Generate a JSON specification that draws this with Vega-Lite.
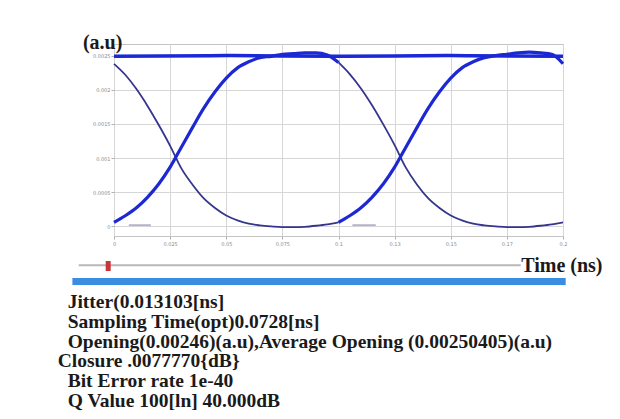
{
  "$schema": "https://vega.github.io/schema/vega-lite/v6.json",
  "background": "white",
  "padding": {"left": 57, "top": 32, "right": 4, "bottom": 4},
  "autosize": {"type": "pad"},
  "bounds": "flush",
  "spacing": 16,
  "config": {"font": "Liberation Serif"},
  "datasets": {
    "eye": [
      {"trace": "rise1", "kind": "rise", "t": 0, "v": 0.00006},
      {"trace": "rise1", "kind": "rise", "t": 0.005, "v": 0.000156},
      {"trace": "rise1", "kind": "rise", "t": 0.01, "v": 0.000273},
      {"trace": "rise1", "kind": "rise", "t": 0.015, "v": 0.000429},
      {"trace": "rise1", "kind": "rise", "t": 0.02, "v": 0.000624},
      {"trace": "rise1", "kind": "rise", "t": 0.025, "v": 0.000867},
      {"trace": "rise1", "kind": "rise", "t": 0.03, "v": 0.00116},
      {"trace": "rise1", "kind": "rise", "t": 0.035, "v": 0.00145},
      {"trace": "rise1", "kind": "rise", "t": 0.04, "v": 0.00173},
      {"trace": "rise1", "kind": "rise", "t": 0.045, "v": 0.00197},
      {"trace": "rise1", "kind": "rise", "t": 0.05, "v": 0.00217},
      {"trace": "rise1", "kind": "rise", "t": 0.055, "v": 0.00232},
      {"trace": "rise1", "kind": "rise", "t": 0.06, "v": 0.00241},
      {"trace": "rise1", "kind": "rise", "t": 0.065, "v": 0.00247},
      {"trace": "rise1", "kind": "rise", "t": 0.07, "v": 0.00249},
      {"trace": "rise1", "kind": "rise", "t": 0.075, "v": 0.00252},
      {"trace": "rise1", "kind": "rise", "t": 0.08, "v": 0.00253},
      {"trace": "rise1", "kind": "rise", "t": 0.085, "v": 0.00254},
      {"trace": "rise1", "kind": "rise", "t": 0.09, "v": 0.00254},
      {"trace": "rise1", "kind": "rise", "t": 0.095, "v": 0.00251},
      {"trace": "rise1", "kind": "rise", "t": 0.1, "v": 0.0024},
      {"trace": "rise2", "kind": "rise", "t": 0.1, "v": 0.00006},
      {"trace": "rise2", "kind": "rise", "t": 0.105, "v": 0.000156},
      {"trace": "rise2", "kind": "rise", "t": 0.11, "v": 0.000273},
      {"trace": "rise2", "kind": "rise", "t": 0.115, "v": 0.000429},
      {"trace": "rise2", "kind": "rise", "t": 0.12, "v": 0.000624},
      {"trace": "rise2", "kind": "rise", "t": 0.125, "v": 0.000867},
      {"trace": "rise2", "kind": "rise", "t": 0.13, "v": 0.00116},
      {"trace": "rise2", "kind": "rise", "t": 0.135, "v": 0.00145},
      {"trace": "rise2", "kind": "rise", "t": 0.14, "v": 0.00173},
      {"trace": "rise2", "kind": "rise", "t": 0.145, "v": 0.00197},
      {"trace": "rise2", "kind": "rise", "t": 0.15, "v": 0.00217},
      {"trace": "rise2", "kind": "rise", "t": 0.155, "v": 0.00232},
      {"trace": "rise2", "kind": "rise", "t": 0.16, "v": 0.00241},
      {"trace": "rise2", "kind": "rise", "t": 0.165, "v": 0.00247},
      {"trace": "rise2", "kind": "rise", "t": 0.17, "v": 0.0025},
      {"trace": "rise2", "kind": "rise", "t": 0.175, "v": 0.00252},
      {"trace": "rise2", "kind": "rise", "t": 0.18, "v": 0.00254},
      {"trace": "rise2", "kind": "rise", "t": 0.185, "v": 0.00255},
      {"trace": "rise2", "kind": "rise", "t": 0.19, "v": 0.00254},
      {"trace": "rise2", "kind": "rise", "t": 0.195, "v": 0.00252},
      {"trace": "rise2", "kind": "rise", "t": 0.2, "v": 0.00238},
      {"trace": "fall1", "kind": "fall", "t": 0, "v": 0.00238},
      {"trace": "fall1", "kind": "fall", "t": 0.005, "v": 0.00222},
      {"trace": "fall1", "kind": "fall", "t": 0.01, "v": 0.00201},
      {"trace": "fall1", "kind": "fall", "t": 0.015, "v": 0.00176},
      {"trace": "fall1", "kind": "fall", "t": 0.02, "v": 0.00148},
      {"trace": "fall1", "kind": "fall", "t": 0.025, "v": 0.00118},
      {"trace": "fall1", "kind": "fall", "t": 0.03, "v": 0.00085},
      {"trace": "fall1", "kind": "fall", "t": 0.035, "v": 0.00061},
      {"trace": "fall1", "kind": "fall", "t": 0.04, "v": 0.00041},
      {"trace": "fall1", "kind": "fall", "t": 0.045, "v": 0.00027},
      {"trace": "fall1", "kind": "fall", "t": 0.05, "v": 0.00016},
      {"trace": "fall1", "kind": "fall", "t": 0.055, "v": 0.00009},
      {"trace": "fall1", "kind": "fall", "t": 0.06, "v": 0.00004},
      {"trace": "fall1", "kind": "fall", "t": 0.065, "v": 0.000015},
      {"trace": "fall1", "kind": "fall", "t": 0.07, "v": 0.0},
      {"trace": "fall1", "kind": "fall", "t": 0.075, "v": -0.00001},
      {"trace": "fall1", "kind": "fall", "t": 0.08, "v": -0.00001},
      {"trace": "fall1", "kind": "fall", "t": 0.085, "v": -0.000005},
      {"trace": "fall1", "kind": "fall", "t": 0.09, "v": 0.00001},
      {"trace": "fall1", "kind": "fall", "t": 0.095, "v": 0.00003},
      {"trace": "fall1", "kind": "fall", "t": 0.1, "v": 0.00006},
      {"trace": "fall2", "kind": "fall", "t": 0.1, "v": 0.0024},
      {"trace": "fall2", "kind": "fall", "t": 0.105, "v": 0.00223},
      {"trace": "fall2", "kind": "fall", "t": 0.11, "v": 0.00202},
      {"trace": "fall2", "kind": "fall", "t": 0.115, "v": 0.00177},
      {"trace": "fall2", "kind": "fall", "t": 0.12, "v": 0.00149},
      {"trace": "fall2", "kind": "fall", "t": 0.125, "v": 0.00119},
      {"trace": "fall2", "kind": "fall", "t": 0.13, "v": 0.00086},
      {"trace": "fall2", "kind": "fall", "t": 0.135, "v": 0.00061},
      {"trace": "fall2", "kind": "fall", "t": 0.14, "v": 0.00041},
      {"trace": "fall2", "kind": "fall", "t": 0.145, "v": 0.00027},
      {"trace": "fall2", "kind": "fall", "t": 0.15, "v": 0.00016},
      {"trace": "fall2", "kind": "fall", "t": 0.155, "v": 0.00009},
      {"trace": "fall2", "kind": "fall", "t": 0.16, "v": 0.00004},
      {"trace": "fall2", "kind": "fall", "t": 0.165, "v": 0.000015},
      {"trace": "fall2", "kind": "fall", "t": 0.17, "v": 0.0},
      {"trace": "fall2", "kind": "fall", "t": 0.175, "v": -0.00001},
      {"trace": "fall2", "kind": "fall", "t": 0.18, "v": -0.00001},
      {"trace": "fall2", "kind": "fall", "t": 0.185, "v": -0.000005},
      {"trace": "fall2", "kind": "fall", "t": 0.19, "v": 0.00001},
      {"trace": "fall2", "kind": "fall", "t": 0.195, "v": 0.00003},
      {"trace": "fall2", "kind": "fall", "t": 0.2, "v": 0.00006},
      {"trace": "top", "kind": "top", "t": 0, "v": 0.00249},
      {"trace": "top", "kind": "top", "t": 0.05, "v": 0.0025},
      {"trace": "top", "kind": "top", "t": 0.1, "v": 0.00249},
      {"trace": "top", "kind": "top", "t": 0.15, "v": 0.0025},
      {"trace": "top", "kind": "top", "t": 0.2, "v": 0.00249},
      {"trace": "mark1", "kind": "mark", "t": 0.0066, "v": 0.00002},
      {"trace": "mark1", "kind": "mark", "t": 0.0164, "v": 0.00002},
      {"trace": "mark2", "kind": "mark", "t": 0.1062, "v": 0.00002},
      {"trace": "mark2", "kind": "mark", "t": 0.1166, "v": 0.00002}
    ],
    "info": [
      {"line": 1, "label": "Jitter(0.013103[ns]"},
      {"line": 2, "label": "Sampling Time(opt)0.0728[ns]"},
      {"line": 3, "label": "Opening(0.00246)(a.u),Average Opening (0.00250405)(a.u)"},
      {"line": 4, "label": "Closure .0077770{dB}"},
      {"line": 5, "label": "Bit Error rate 1e-40"},
      {"line": 6, "label": "Q Value 100[ln] 40.000dB"}
    ]
  },
  "vconcat": [
    {
      "width": 449,
      "height": 192,
      "view": {"stroke": "#c4c4c4", "strokeWidth": 1},
      "data": {"name": "eye"},
      "encoding": {
        "x": {
          "field": "t", "type": "quantitative",
          "scale": {"domain": [0, 0.2], "nice": false, "zero": false},
          "axis": {
            "values": [0, 0.025, 0.05, 0.075, 0.1, 0.125, 0.15, 0.175, 0.2],
            "format": "~g",
            "labelFontSize": 5, "labelColor": "#8a8a8a", "labelFont": "DejaVu Sans",
            "labelPadding": 2, "labelFlush": false, "labelOverlap": false,
            "tickSize": 3, "tickColor": "#b0b0b0", "domain": false,
            "gridColor": "#d6d6d6", "gridWidth": 1,
            "title": "Time (ns)", "titleFont": "Liberation Serif", "titleFontSize": 20,
            "titleFontWeight": "bold", "titleColor": "#1a1a1a",
            "titleAlign": "left", "titleBaseline": "middle", "titleX": 406.7, "titleY": 29.8
          }
        },
        "y": {
          "field": "v", "type": "quantitative",
          "scale": {"domain": [-0.00014, 0.00267], "nice": false, "zero": false},
          "axis": {
            "values": [0, 0.0005, 0.001, 0.0015, 0.002, 0.0025],
            "format": "~g",
            "labelFontSize": 5, "labelColor": "#8a8a8a", "labelFont": "DejaVu Sans",
            "labelPadding": 1, "labelOverlap": false,
            "tickSize": 3, "tickColor": "#b0b0b0", "domain": false,
            "gridColor": "#d6d6d6", "gridWidth": 1,
            "title": "(a.u)", "titleFont": "Liberation Serif", "titleFontSize": 20,
            "titleFontWeight": "bold", "titleColor": "#1a1a1a", "titleAngle": 0,
            "titleAlign": "left", "titleBaseline": "middle", "titleX": -31.6, "titleY": -1.2
          }
        },
        "detail": {"field": "trace"}
      },
      "layer": [
        {"transform": [{"filter": "datum.kind === 'mark'"}], "mark": {"type": "line", "color": "#7a7aa6", "strokeWidth": 1}},
        {"transform": [{"filter": "datum.kind === 'fall'"}], "mark": {"type": "line", "color": "#35358e", "strokeWidth": 1.8, "interpolate": "monotone"}},
        {"transform": [{"filter": "datum.kind === 'top'"}], "mark": {"type": "line", "color": "#1a28d8", "strokeWidth": 3.5, "interpolate": "monotone"}},
        {"transform": [{"filter": "datum.kind === 'rise'"}], "mark": {"type": "line", "color": "#1c28d2", "strokeWidth": 3.2, "interpolate": "monotone"}}
      ]
    },
    {
      "width": 488,
      "height": 160,
      "view": {"stroke": null},
      "resolve": {"scale": {"x": "independent", "y": "independent"}},
      "layer": [
        {
          "data": {"values": [{"part": "slider"}]},
          "mark": {"type": "rule", "color": "#b8b8b8", "strokeWidth": 2},
          "encoding": {
            "x": {"datum": 0, "type": "quantitative", "scale": {"domain": [0, 1], "range": [-35.3, 406.7]}, "axis": null},
            "x2": {"datum": 1},
            "y": {"datum": 0, "type": "quantitative", "scale": {"domain": [0, 1], "range": [13.3, 14.3]}, "axis": null}
          }
        },
        {
          "data": {"values": [{"part": "bar"}]},
          "mark": {"type": "rect", "color": "#3b8de0"},
          "encoding": {
            "x": {"datum": 0, "type": "quantitative", "scale": {"domain": [0, 1], "range": [-41.6, 451.7]}, "axis": null},
            "x2": {"datum": 1},
            "y": {"datum": 0, "type": "quantitative", "scale": {"domain": [0, 1], "range": [26, 33]}, "axis": null},
            "y2": {"datum": 1}
          }
        },
        {
          "data": {"values": [{"part": "handle"}]},
          "mark": {"type": "rect", "color": "#c8353a"},
          "encoding": {
            "x": {"datum": 0, "type": "quantitative", "scale": {"domain": [0, 1], "range": [-8.3, -3.3]}, "axis": null},
            "x2": {"datum": 1},
            "y": {"datum": 0, "type": "quantitative", "scale": {"domain": [0, 1], "range": [9, 19]}, "axis": null},
            "y2": {"datum": 1}
          }
        },
        {
          "data": {"name": "info"},
          "transform": [{"filter": "datum.line !== 4"}],
          "mark": {"type": "text", "align": "left", "baseline": "middle", "font": "Liberation Serif", "fontSize": 19.5, "fontWeight": "bold", "color": "#1a1a1a"},
          "encoding": {
            "x": {"datum": 0, "type": "quantitative", "scale": {"domain": [0, 1], "range": [-46.3, 487.7]}, "axis": null},
            "y": {"field": "line", "type": "quantitative", "scale": {"domain": [1, 6], "range": [50, 148.8]}, "axis": null},
            "text": {"field": "label"}
          }
        },
        {
          "data": {"name": "info"},
          "transform": [{"filter": "datum.line === 4"}],
          "mark": {"type": "text", "align": "left", "baseline": "middle", "font": "Liberation Serif", "fontSize": 19.5, "fontWeight": "bold", "color": "#1a1a1a"},
          "encoding": {
            "x": {"datum": 0, "type": "quantitative", "scale": {"domain": [0, 1], "range": [-56.3, 487.7]}, "axis": null},
            "y": {"field": "line", "type": "quantitative", "scale": {"domain": [1, 6], "range": [50, 148.8]}, "axis": null},
            "text": {"field": "label"}
          }
        }
      ]
    }
  ]
}
